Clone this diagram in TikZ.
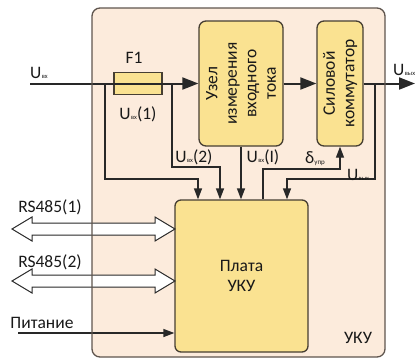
\documentclass[tikz,border=0pt]{standalone}
\usepackage{fontspec}
\setmainfont{Carlito}
\usetikzlibrary{arrows.meta}
\definecolor{outerfill}{RGB}{252,235,220}
\definecolor{outerline}{RGB}{95,85,78}
\definecolor{boxfill}{RGB}{250,226,145}
\definecolor{boxline}{RGB}{70,62,50}
\definecolor{wire}{RGB}{40,40,40}
\definecolor{txt}{RGB}{25,25,25}
\newcommand\Ulab[1]{U\kern0.4pt\raisebox{-0.2pt}{\fontsize{6.5}{6.5}\selectfont #1}}
\begin{document}
\begin{tikzpicture}[x=1pt,y=-1pt, text=txt, font=\fontsize{17.5}{19.5}\selectfont,
 blk/.style={draw=boxline, line width=1.3pt, fill=boxfill, rounded corners=7pt, inner sep=0pt},
 wireline/.style={draw=wire, line width=1.3pt},
 arr/.style={wireline, -{Triangle[length=11pt,width=8pt]}},
 bigarr/.style={draw=wire, line width=2pt, -{Triangle[length=16pt,width=12pt]}},
 hollow/.style={draw=wire, line width=1pt, fill=white, line join=miter},
 lbl/.style={inner sep=0pt, font=\fontsize{17.5}{17.5}\selectfont},
]
\useasboundingbox (0,0) rectangle (417,360);
\fill[outerfill, rounded corners=8pt] (92,8) rectangle (385,357);

% blocks
\node[blk, minimum width=84pt, minimum height=125pt] (uzel) at (241,83.5) {};
\node[rotate=90, align=center, inner sep=0pt] (uzeltext) at (uzel.center) {Узел\\измерения\\входного\\тока};
\node[blk, minimum width=46pt, minimum height=125pt] (sil) at (340,83.5) {};
\node[rotate=90, align=center, inner sep=0pt] (siltext) at (sil.center) {Силовой\\коммутатор};
\node[blk, rounded corners=6pt, minimum width=133pt, minimum height=152pt, align=center] (plata) at (241.5,276) {Плата\\УКУ};
\node[draw=boxline, line width=1.2pt, fill=boxfill, minimum width=48pt, minimum height=22pt, inner sep=0pt] (fuse) at (138,83.5) {};

% coordinates
\coordinate (in) at (30,83.5);
\coordinate (out) at (415,83.5);
\coordinate (b1) at (105,83.5);
\coordinate (b2) at (172,83.5);
\coordinate (b3) at (375,83.5);
\coordinate (k1) at (198,179);
\coordinate (k2) at (220,167);
\coordinate (k3) at (263,169);
\coordinate (k4) at (287,179);
\coordinate (rs1) at (175,229);
\coordinate (rs2) at (175,281);
\coordinate (pit) at (18,333);

% main line
\draw[bigarr] (in) -- (uzel.west);
\draw[bigarr] (uzel.east) -- (sil.west);
\draw[bigarr] (sil.east) -- (out);

% wires to board
\draw[arr] (b1) |- (k1) -- (k1 |- plata.north);
\draw[arr] (b2) |- (k2) -- (k2 |- plata.north);
\draw[arr] (uzel.south) -- (uzel.south |- plata.north);
\draw[arr] (k3 |- plata.north) -- (k3) -| (sil.south);
\draw[arr] (b3) |- (k4) -- (k4 |- plata.north);

% RS485 hollow arrows
\draw[hollow] (rs1) -- ++(-20,-12) -- ++(0,6) -- ++(-123,0) -- ++(0,-6) -- ++(-20,12) -- ++(20,12) -- ++(0,-6) -- ++(123,0) -- ++(0,6) -- cycle;
\draw[hollow] (rs2) -- ++(-20,-12) -- ++(0,6) -- ++(-123,0) -- ++(0,-6) -- ++(-20,12) -- ++(20,12) -- ++(0,-6) -- ++(123,0) -- ++(0,6) -- cycle;
\draw[arr] (pit) -- (pit -| plata.west);

% outer border
\draw[outerline, line width=1.3pt, rounded corners=8pt] (92,8) rectangle (385,357);

% labels
\node[lbl] (luin) at (39,73) {\Ulab{вх}};
\node[lbl] (lf1) at (134,58) {F1};
\node[lbl] (lu1) at (138,114) {\Ulab{вх}(1)};
\node[lbl] (lu2) at (194,157) {\Ulab{вх}(2)};
\node[lbl] (lui) at (263,157) {\Ulab{вх}(I)};
\node[lbl] (ld) at (315,159) {δ\raisebox{-1pt}{\fontsize{7}{7}\selectfont упр}};
\node[lbl] (luout) at (358,175) {\Ulab{вых}};
\node[lbl, anchor=west] (luo) at (393,70) {\Ulab{вых}};
\node[lbl] (lrs1) at (50,207) {RS485(1)};
\node[lbl] (lrs2) at (50,262) {RS485(2)};
\node[lbl] (lpit) at (42,323) {Питание};
\node[lbl] (lyku) at (358,338) {УКУ};
\end{tikzpicture}
\end{document}
